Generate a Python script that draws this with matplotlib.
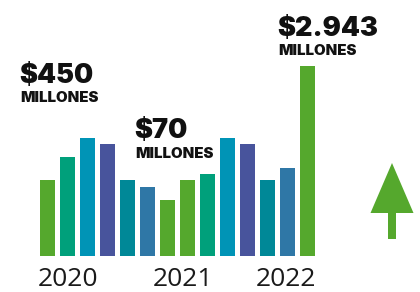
import numpy as np
import matplotlib.pyplot as plt
from matplotlib.patches import FancyArrow

# bar heights (pixel-ish units)
heights = [76, 99, 118, 112, 76, 69, 56, 76, 82, 118, 112, 76, 88, 190]
colors = ["#55A82D", "#00A07B", "#0094B6", "#48549C", "#008897", "#2F77A6", "#55A82D",
          "#55A82D", "#00A07B", "#0094B6", "#48549C", "#008897", "#2F77A6", "#55A82D"]
years = ["2020", "2021", "2022"]
year_pos = [1.025, 6.75, 11.925]
amounts = ["$450", "$70", "$2.943"]
amount_x = [-1.425, 4.325, 11.475]
amount_y = [173, 118, 220]
sub_y = [154, 98, 201]

fig = plt.figure(figsize=(4.2, 2.92), dpi=100)
ax = fig.add_axes([0, 0, 1, 1])
ax.set_xlim(-2.375, 18.625)
ax.set_ylim(-36, 256)
ax.set_axis_off()

x = np.arange(len(heights))
ax.bar(x, heights, width=0.75, color=colors)

for i in range(len(years)):
    ax.text(year_pos[i], -29.5, years[i], ha="center", va="baseline",
            fontsize=19, family="Open Sans", color="#1a1a1a")

for i in range(len(amounts)):
    ax.text(amount_x[i], amount_y[i], amounts[i], ha="left", va="baseline",
            fontsize=19.5, family="Inter", weight="black", color="#111111")
    ax.text(amount_x[i] + 0.05, sub_y[i], "MILLONES", ha="left", va="baseline",
            fontsize=10.8, family="Inter", weight="black", color="#111111")

# green arrow on the right
arr = FancyArrow(17.225, 17, 0, 76, width=0.4, head_width=2.15, head_length=50,
                 length_includes_head=True, color="#55A82D", lw=0)
ax.add_patch(arr)

plt.savefig("out.png", dpi=100)
